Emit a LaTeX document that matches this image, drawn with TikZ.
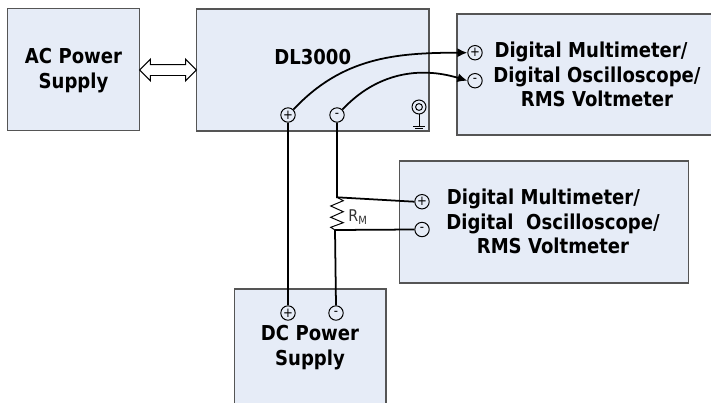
\documentclass[tikz,border=0pt]{standalone}
\usepackage{fontspec}
\setmainfont{DejaVu Sans}[FakeStretch=0.88]
\usetikzlibrary{arrows.meta,shapes.arrows}

\definecolor{boxfill}{HTML}{E6ECF7}
\definecolor{boxedge}{HTML}{555555}

\begin{document}
\begin{tikzpicture}[x=0.025cm, y=-0.025cm,
  blk/.style={draw=boxedge, fill=boxfill, line width=0.9pt, inner sep=0pt},
  lbl/.style={align=center, inner sep=0pt, font=\fontsize{14.6}{17.4}\selectfont\bfseries},
  term/.style={circle, draw, fill=boxfill, line width=0.7pt, inner sep=0pt, minimum size=0.36cm,
               font=\fontsize{9.5}{9.5}\selectfont},
  wire/.style={line width=1.25pt},
  arr/.style={wire, -{Latex[length=7pt,width=6.5pt]}},
  thin wire/.style={line width=0.7pt}
]
  \path[use as bounding box, clip] (0,0) rectangle (711,402);

  % boxes
  \node[blk, minimum width=3.3cm, minimum height=3.05cm] (ac) at (73.5,69.5) {};
  \node[blk, minimum width=5.81cm, minimum height=3.05cm] (dl) at (312.75,70) {};
  \node[blk, minimum width=7.5cm, minimum height=3.02cm] (mma) at (607,74.5) {};
  \node[blk, minimum width=7.22cm, minimum height=3.05cm] (mmb) at (543.7,222) {};
  \node[blk, minimum width=3.79cm, minimum height=3.6cm] (dc) at (310.2,361) {};

  \node[lbl] (actxt) at (73.5,70.5) {AC Power\\Supply};
  \node[lbl] (dltxt) at (312.7,57) {DL3000};
  \node[lbl] (mmatxt) at (597,74.5) {Digital Multimeter/\hspace*{0.3cm}\\Digital Oscilloscope/\\RMS Voltmeter};
  \node[lbl] (mmbtxt) at (553,221.5) {Digital Multimeter/\hspace*{0.48cm}\\Digital\ \ Oscilloscope/\\RMS Voltmeter};
  \node[lbl] (dctxt) at (310,347.5) {DC Power\\Supply};

  % AC link
  \node[double arrow, draw=black, fill=white, line width=0.7pt, inner sep=0pt,
        minimum height=1.42cm, double arrow head extend=0.135cm,
        double arrow head indent=0pt] (link) at (168,70) {\rule{0pt}{0.25cm}};

  % terminals
  \node[term] (dlp) at (288,115) {+};
  \node[term] (dlm) at (337,115) {-};
  \node[term] (mmap) at (475,52.7) {+};
  \node[term] (mmam) at (475,80.7) {-};
  \node[term] (mmbp) at (422,201.7) {+};
  \node[term] (mmbm) at (422,229.5) {-};
  \node[term] (dcp) at (288,313) {+};
  \node[term] (dcm) at (336,313) {-};

  % ground
  \node[circle, draw, line width=0.7pt, minimum size=0.35cm, inner sep=0pt] (gnd) at (419,107) {};
  \node[circle, draw, line width=0.7pt, minimum size=0.17cm, inner sep=0pt] (gndin) at (419,107) {};
  \coordinate (gndb) at (419,126);
  \draw[line width=0.7pt] (gnd) -- (gndb);
  \draw[line width=0.7pt] ([xshift=-0.15cm]gndb) -- ([xshift=0.15cm]gndb);
  \draw[line width=0.7pt] ([xshift=-0.09cm,yshift=-0.07cm]gndb) -- ([xshift=0.09cm,yshift=-0.07cm]gndb);

  % wires
  \coordinate (rtop) at (337,197.3);
  \coordinate (rbot) at (335,230);
  \draw[arr] (dlp.north east) to[out=47, in=180] (mmap.west);
  \draw[arr] (dlm.north east) to[out=47, in=163] (mmam.west);
  \draw[wire] (dlp) -- (dcp);
  \draw[wire] (dlm.south) -- (rtop) -- (mmbp.west);
  \draw[wire] (rbot) -- (mmbm.west);
  \draw[wire] (rbot) -- (dcm.north);
  \draw[thin wire] (rtop) -- (343.3,200.7) -- (330.7,206) -- (343.3,211.7) -- (330.7,217.3)
    -- (343.3,222.7) -- (330.7,227.3) -- (rbot);
  \node[inner sep=0pt, text=black!80, font=\fontsize{11.5}{12}\selectfont] (rm) at (358,217) {R\textsubscript{M}};
\end{tikzpicture}
\end{document}
